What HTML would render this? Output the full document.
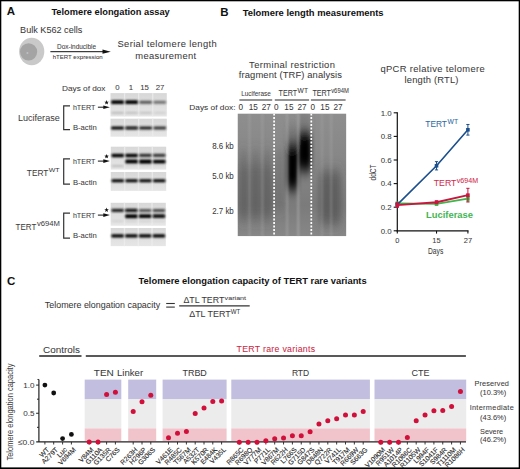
<!DOCTYPE html>
<html><head><meta charset="utf-8"><style>
html,body{margin:0;padding:0;background:#fff;}
svg{display:block;font-family:"Liberation Sans",sans-serif;}
</style></head><body>
<svg width="520" height="469" viewBox="0 0 520 469">
<defs>
<filter id="bl" x="-30%" y="-200%" width="160%" height="500%"><feGaussianBlur stdDeviation="0.85 0.8"/></filter>
<filter id="gb" x="-50%" y="-50%" width="200%" height="200%"><feGaussianBlur stdDeviation="3 6"/></filter>
<filter id="gb2" x="-50%" y="-50%" width="200%" height="200%"><feGaussianBlur stdDeviation="2 6.5"/></filter>
<filter id="gb3" x="-50%" y="-10%" width="200%" height="120%"><feGaussianBlur stdDeviation="0.8 1.2"/></filter>
<clipPath id="gelclip"><rect x="237.5" y="113.4" width="108.9" height="122.9"/></clipPath>
<linearGradient id="blotbg" x1="0" y1="0" x2="0" y2="1"><stop offset="0" stop-color="#d8d8d8"/><stop offset="1" stop-color="#e6e6e6"/></linearGradient>
<linearGradient id="gelbg" x1="0" y1="0" x2="0" y2="1">
<stop offset="0" stop-color="#8e8e8e"/><stop offset="0.4" stop-color="#868686"/><stop offset="0.75" stop-color="#7b7b7b"/><stop offset="1" stop-color="#878787"/></linearGradient>
<linearGradient id="lanegrad" x1="0" y1="0" x2="0" y2="1">
<stop offset="0" stop-color="#8a8a8a"/><stop offset="0.5" stop-color="#707070"/><stop offset="0.8" stop-color="#686868"/><stop offset="1" stop-color="#808080"/></linearGradient>
</defs>
<rect x="0" y="0" width="520" height="469" fill="#fff"/>
<text x="6.8" y="15.3" font-size="11.5" text-anchor="start" fill="#111" font-weight="bold">A</text>
<text x="51.4" y="15.4" font-size="9.3" text-anchor="start" fill="#111" font-weight="bold" textLength="118.4" lengthAdjust="spacingAndGlyphs">Telomere elongation assay</text>
<text x="20.1" y="32.6" font-size="9.3" text-anchor="start" fill="#3a3a3a" stroke="#3a3a3a" stroke-width="0.05" textLength="62.2" lengthAdjust="spacingAndGlyphs">Bulk K562 cells</text>
<ellipse cx="31.7" cy="51.5" rx="12.6" ry="13.7" fill="#c9c9c9"/>
<circle cx="28.6" cy="51.8" r="8.6" fill="#a4a4a4"/>
<text x="26.5" y="53.5" font-size="3" fill="#d8d8d8">ɑ</text>
<line x1="50.4" y1="51.7" x2="104" y2="51.7" stroke="#111" stroke-width="1"/>
<polygon points="102.5,49.6 110.8,51.7 102.5,53.8" fill="#111"/>
<text x="76.6" y="48.9" font-size="6.4" text-anchor="middle" fill="#3a3a3a" stroke="#3a3a3a" stroke-width="0.05" textLength="39" lengthAdjust="spacingAndGlyphs">Dox-inducible</text>
<text x="77.7" y="59.2" font-size="6.1" text-anchor="middle" fill="#3a3a3a" stroke="#3a3a3a" stroke-width="0.05" textLength="50" lengthAdjust="spacingAndGlyphs">hTERT expression</text>
<text x="117.4" y="47.1" font-size="9.4" text-anchor="start" fill="#3a3a3a" stroke="#3a3a3a" stroke-width="0.05" textLength="99.3" lengthAdjust="spacing">Serial telomere length</text>
<text x="135.2" y="58.6" font-size="9.4" text-anchor="start" fill="#3a3a3a" stroke="#3a3a3a" stroke-width="0.05" textLength="61" lengthAdjust="spacing">measurement</text>
<text x="62" y="90.5" font-size="7.9" text-anchor="start" fill="#3a3a3a" stroke="#3a3a3a" stroke-width="0.05" textLength="43.5" lengthAdjust="spacingAndGlyphs">Days of dox</text>
<text x="117.5" y="89.9" font-size="7.8" text-anchor="middle" fill="#3a3a3a" stroke="#3a3a3a" stroke-width="0.05">0</text>
<text x="130.9" y="89.9" font-size="7.8" text-anchor="middle" fill="#3a3a3a" stroke="#3a3a3a" stroke-width="0.05">1</text>
<text x="144.5" y="89.9" font-size="7.8" text-anchor="middle" fill="#3a3a3a" stroke="#3a3a3a" stroke-width="0.05">15</text>
<text x="160" y="89.9" font-size="7.8" text-anchor="middle" fill="#3a3a3a" stroke="#3a3a3a" stroke-width="0.05">27</text>
<rect x="110.5" y="93.1" width="56.30" height="23.40" fill="url(#blotbg)"/>
<rect x="123.88" y="93.1" width="1.4" height="23.40" fill="#ececec" opacity="0.8"/>
<rect x="137.95" y="93.1" width="1.4" height="23.40" fill="#ececec" opacity="0.8"/>
<rect x="152.03" y="93.1" width="1.4" height="23.40" fill="#ececec" opacity="0.8"/>
<rect x="111.20" y="100.27" width="12.67" height="3.85" rx="1.2" fill="rgb(0,0,0)" filter="url(#bl)"/>
<rect x="125.28" y="100.31" width="12.67" height="3.77" rx="1.2" fill="rgb(0,0,0)" filter="url(#bl)"/>
<rect x="139.35" y="100.64" width="12.67" height="3.12" rx="1.2" fill="rgb(85,85,85)" filter="url(#bl)"/>
<rect x="153.43" y="100.72" width="12.67" height="2.96" rx="1.2" fill="rgb(111,111,111)" filter="url(#bl)"/>
<rect x="111.20" y="112.24" width="12.67" height="1.32" rx="1.2" fill="rgb(163,163,163)" filter="url(#bl)"/>
<rect x="125.28" y="112.25" width="12.67" height="1.29" rx="1.2" fill="rgb(170,170,170)" filter="url(#bl)"/>
<rect x="139.35" y="112.26" width="12.67" height="1.28" rx="1.2" fill="rgb(176,176,176)" filter="url(#bl)"/>
<rect x="153.43" y="112.29" width="12.67" height="1.21" rx="1.2" fill="rgb(196,196,196)" filter="url(#bl)"/>
<rect x="110.5" y="118.7" width="56.30" height="18.00" fill="url(#blotbg)"/>
<rect x="123.88" y="118.7" width="1.4" height="18.00" fill="#ececec" opacity="0.8"/>
<rect x="137.95" y="118.7" width="1.4" height="18.00" fill="#ececec" opacity="0.8"/>
<rect x="152.03" y="118.7" width="1.4" height="18.00" fill="#ececec" opacity="0.8"/>
<rect x="111.20" y="126.42" width="12.67" height="3.17" rx="1.2" fill="rgb(0,0,0)" filter="url(#bl)"/>
<rect x="125.28" y="126.50" width="12.67" height="3.01" rx="1.2" fill="rgb(7,7,7)" filter="url(#bl)"/>
<rect x="139.35" y="126.56" width="12.67" height="2.89" rx="1.2" fill="rgb(30,30,30)" filter="url(#bl)"/>
<rect x="153.43" y="126.61" width="12.67" height="2.78" rx="1.2" fill="rgb(51,51,51)" filter="url(#bl)"/>
<rect x="110.8" y="146.7" width="55.40" height="22.90" fill="url(#blotbg)"/>
<rect x="123.95" y="146.7" width="1.4" height="22.90" fill="#ececec" opacity="0.8"/>
<rect x="137.80" y="146.7" width="1.4" height="22.90" fill="#ececec" opacity="0.8"/>
<rect x="151.65" y="146.7" width="1.4" height="22.90" fill="#ececec" opacity="0.8"/>
<rect x="111.49" y="153.64" width="12.46" height="3.52" rx="1.2" fill="rgb(0,0,0)" filter="url(#bl)"/>
<rect x="125.34" y="153.64" width="12.46" height="3.52" rx="1.2" fill="rgb(0,0,0)" filter="url(#bl)"/>
<rect x="139.19" y="153.81" width="12.46" height="3.18" rx="1.2" fill="rgb(46,46,46)" filter="url(#bl)"/>
<rect x="153.04" y="153.84" width="12.46" height="3.12" rx="1.2" fill="rgb(56,56,56)" filter="url(#bl)"/>
<rect x="125.34" y="159.61" width="12.46" height="3.98" rx="1.2" fill="rgb(0,0,0)" filter="url(#bl)"/>
<rect x="139.19" y="159.57" width="12.46" height="4.07" rx="1.2" fill="rgb(0,0,0)" filter="url(#bl)"/>
<rect x="153.04" y="159.65" width="12.46" height="3.89" rx="1.2" fill="rgb(0,0,0)" filter="url(#bl)"/>
<rect x="111.49" y="165.36" width="12.46" height="1.28" rx="1.2" fill="rgb(176,176,176)" filter="url(#bl)"/>
<rect x="125.34" y="165.40" width="12.46" height="1.20" rx="1.2" fill="rgb(202,202,202)" filter="url(#bl)"/>
<rect x="139.19" y="165.39" width="12.46" height="1.21" rx="1.2" fill="rgb(196,196,196)" filter="url(#bl)"/>
<rect x="153.04" y="165.41" width="12.46" height="1.18" rx="1.2" fill="rgb(207,207,207)" filter="url(#bl)"/>
<rect x="110.8" y="172" width="55.40" height="18.90" fill="url(#blotbg)"/>
<rect x="123.95" y="172" width="1.4" height="18.90" fill="#ececec" opacity="0.8"/>
<rect x="137.80" y="172" width="1.4" height="18.90" fill="#ececec" opacity="0.8"/>
<rect x="151.65" y="172" width="1.4" height="18.90" fill="#ececec" opacity="0.8"/>
<rect x="111.49" y="179.33" width="12.46" height="2.95" rx="1.2" fill="rgb(0,0,0)" filter="url(#bl)"/>
<rect x="125.34" y="179.34" width="12.46" height="2.92" rx="1.2" fill="rgb(4,4,4)" filter="url(#bl)"/>
<rect x="139.19" y="179.33" width="12.46" height="2.95" rx="1.2" fill="rgb(0,0,0)" filter="url(#bl)"/>
<rect x="153.04" y="179.30" width="12.46" height="3.00" rx="1.2" fill="rgb(0,0,0)" filter="url(#bl)"/>
<rect x="110.7" y="202.8" width="55.10" height="22.90" fill="url(#blotbg)"/>
<rect x="123.78" y="202.8" width="1.4" height="22.90" fill="#ececec" opacity="0.8"/>
<rect x="137.55" y="202.8" width="1.4" height="22.90" fill="#ececec" opacity="0.8"/>
<rect x="151.33" y="202.8" width="1.4" height="22.90" fill="#ececec" opacity="0.8"/>
<rect x="111.39" y="208.77" width="12.40" height="3.26" rx="1.2" fill="rgb(33,33,33)" filter="url(#bl)"/>
<rect x="125.16" y="208.70" width="12.40" height="3.41" rx="1.2" fill="rgb(7,7,7)" filter="url(#bl)"/>
<rect x="138.94" y="208.92" width="12.40" height="2.96" rx="1.2" fill="rgb(82,82,82)" filter="url(#bl)"/>
<rect x="152.71" y="208.89" width="12.40" height="3.03" rx="1.2" fill="rgb(72,72,72)" filter="url(#bl)"/>
<rect x="125.16" y="214.26" width="12.40" height="3.88" rx="1.2" fill="rgb(0,0,0)" filter="url(#bl)"/>
<rect x="138.94" y="214.29" width="12.40" height="3.83" rx="1.2" fill="rgb(0,0,0)" filter="url(#bl)"/>
<rect x="152.71" y="214.35" width="12.40" height="3.71" rx="1.2" fill="rgb(7,7,7)" filter="url(#bl)"/>
<rect x="111.39" y="220.60" width="12.40" height="1.20" rx="1.2" fill="rgb(202,202,202)" filter="url(#bl)"/>
<rect x="125.16" y="220.60" width="12.40" height="1.20" rx="1.2" fill="rgb(202,202,202)" filter="url(#bl)"/>
<rect x="138.94" y="220.60" width="12.40" height="1.20" rx="1.2" fill="rgb(202,202,202)" filter="url(#bl)"/>
<rect x="152.71" y="220.61" width="12.40" height="1.18" rx="1.2" fill="rgb(207,207,207)" filter="url(#bl)"/>
<rect x="110.7" y="228" width="55.10" height="18.10" fill="url(#blotbg)"/>
<rect x="123.78" y="228" width="1.4" height="18.10" fill="#ececec" opacity="0.8"/>
<rect x="137.55" y="228" width="1.4" height="18.10" fill="#ececec" opacity="0.8"/>
<rect x="151.33" y="228" width="1.4" height="18.10" fill="#ececec" opacity="0.8"/>
<rect x="111.39" y="234.16" width="12.40" height="3.28" rx="1.2" fill="rgb(0,0,0)" filter="url(#bl)"/>
<rect x="125.16" y="234.16" width="12.40" height="3.28" rx="1.2" fill="rgb(0,0,0)" filter="url(#bl)"/>
<rect x="138.94" y="234.23" width="12.40" height="3.15" rx="1.2" fill="rgb(0,0,0)" filter="url(#bl)"/>
<rect x="152.71" y="234.23" width="12.40" height="3.15" rx="1.2" fill="rgb(0,0,0)" filter="url(#bl)"/>
<polyline points="70,105.8 63.7,105.8 63.7,129.7 70,129.7" fill="none" stroke="#333" stroke-width="1.2"/>
<text x="72.9" y="109.9" font-size="7.9" text-anchor="start" fill="#3a3a3a" stroke="#3a3a3a" stroke-width="0.05" textLength="22.5" lengthAdjust="spacingAndGlyphs">hTERT</text>
<text x="72.9" y="130.3" font-size="7.9" text-anchor="start" fill="#3a3a3a" stroke="#3a3a3a" stroke-width="0.05" textLength="23.9" lengthAdjust="spacingAndGlyphs">B-actin</text>
<line x1="97.9" y1="107.2" x2="104.5" y2="107.2" stroke="#111" stroke-width="1"/>
<polygon points="103.3,105.4 109.9,107.2 103.3,109.0" fill="#111"/>
<polygon points="106.60,100.10 107.19,101.68 108.88,101.76 107.56,102.81 108.01,104.44 106.60,103.51 105.19,104.44 105.64,102.81 104.32,101.76 106.01,101.68" fill="#111"/>
<text x="18" y="120.8" font-size="9.2" fill="#3a3a3a" textLength="41.7" lengthAdjust="spacingAndGlyphs">Luciferase</text>
<polyline points="70,158.8 63.7,158.8 63.7,184.1 70,184.1" fill="none" stroke="#333" stroke-width="1.2"/>
<text x="72.9" y="163.5" font-size="7.9" text-anchor="start" fill="#3a3a3a" stroke="#3a3a3a" stroke-width="0.05" textLength="22.5" lengthAdjust="spacingAndGlyphs">hTERT</text>
<text x="72.9" y="184.6" font-size="7.9" text-anchor="start" fill="#3a3a3a" stroke="#3a3a3a" stroke-width="0.05" textLength="23.9" lengthAdjust="spacingAndGlyphs">B-actin</text>
<line x1="97.9" y1="161.1" x2="104.5" y2="161.1" stroke="#111" stroke-width="1"/>
<polygon points="103.3,159.29999999999998 109.9,161.1 103.3,162.9" fill="#111"/>
<polygon points="106.60,154.00 107.19,155.58 108.88,155.66 107.56,156.71 108.01,158.34 106.60,157.41 105.19,158.34 105.64,156.71 104.32,155.66 106.01,155.58" fill="#111"/>
<text x="26.8" y="176" font-size="9.7" fill="#3a3a3a" textLength="21.6" lengthAdjust="spacingAndGlyphs">TERT</text>
<text x="48.7" y="172.2" font-size="6.2" fill="#3a3a3a" textLength="10.9" lengthAdjust="spacingAndGlyphs">WT</text>
<polyline points="70,213.2 63.7,213.2 63.7,238.1 70,238.1" fill="none" stroke="#333" stroke-width="1.2"/>
<text x="72.9" y="217.5" font-size="7.9" text-anchor="start" fill="#3a3a3a" stroke="#3a3a3a" stroke-width="0.05" textLength="22.5" lengthAdjust="spacingAndGlyphs">hTERT</text>
<text x="72.9" y="238.1" font-size="7.9" text-anchor="start" fill="#3a3a3a" stroke="#3a3a3a" stroke-width="0.05" textLength="23.9" lengthAdjust="spacingAndGlyphs">B-actin</text>
<line x1="97.9" y1="215.1" x2="104.5" y2="215.1" stroke="#111" stroke-width="1"/>
<polygon points="103.3,213.29999999999998 109.9,215.1 103.3,216.9" fill="#111"/>
<polygon points="106.60,207.60 107.19,209.18 108.88,209.26 107.56,210.31 108.01,211.94 106.60,211.01 105.19,211.94 105.64,210.31 104.32,209.26 106.01,209.18" fill="#111"/>
<text x="15.6" y="230.1" font-size="9.5" fill="#3a3a3a" textLength="20.8" lengthAdjust="spacingAndGlyphs">TERT</text>
<text x="36.9" y="226.4" font-size="6.6" fill="#3a3a3a" textLength="23" lengthAdjust="spacingAndGlyphs">v694M</text>
<text x="220.2" y="15.6" font-size="11.5" text-anchor="start" fill="#111" font-weight="bold">B</text>
<text x="242.7" y="15.9" font-size="9.4" text-anchor="start" fill="#111" font-weight="bold" textLength="140.9" lengthAdjust="spacingAndGlyphs">Telomere length measurements</text>
<text x="249.1" y="67.5" font-size="9.4" text-anchor="start" fill="#3a3a3a" stroke="#3a3a3a" stroke-width="0.05" textLength="85.8" lengthAdjust="spacing">Terminal restriction</text>
<text x="238.8" y="78.2" font-size="9.4" text-anchor="start" fill="#3a3a3a" stroke="#3a3a3a" stroke-width="0.05" textLength="103.2" lengthAdjust="spacing">fragment (TRF) analysis</text>
<text x="241.2" y="96" font-size="7.6" text-anchor="start" fill="#3a3a3a" stroke="#3a3a3a" stroke-width="0.05" textLength="29.6" lengthAdjust="spacingAndGlyphs">Luciferase</text>
<text x="278.6" y="96" font-size="8.6" text-anchor="start" fill="#3a3a3a" stroke="#3a3a3a" stroke-width="0.05" textLength="18.6" lengthAdjust="spacingAndGlyphs">TERT</text>
<text x="297.6" y="93.3" font-size="6.6" text-anchor="start" fill="#3a3a3a" stroke="#3a3a3a" stroke-width="0.05" textLength="10.4" lengthAdjust="spacingAndGlyphs">WT</text>
<text x="312.4" y="96" font-size="8.6" text-anchor="start" fill="#3a3a3a" stroke="#3a3a3a" stroke-width="0.05" textLength="18.6" lengthAdjust="spacingAndGlyphs">TERT</text>
<text x="331.2" y="93.3" font-size="6.4" text-anchor="start" fill="#3a3a3a" stroke="#3a3a3a" stroke-width="0.05" textLength="17.6" lengthAdjust="spacingAndGlyphs">v694M</text>
<line x1="239.4" y1="100" x2="272.2" y2="100" stroke="#2a2a2a" stroke-width="1.15"/>
<line x1="274.8" y1="100" x2="309.1" y2="100" stroke="#2a2a2a" stroke-width="1.15"/>
<line x1="310.9" y1="100" x2="345.6" y2="100" stroke="#2a2a2a" stroke-width="1.15"/>
<text x="189.3" y="110" font-size="8" text-anchor="start" fill="#3a3a3a" stroke="#3a3a3a" stroke-width="0.05" textLength="46.2" lengthAdjust="spacingAndGlyphs">Days of dox:</text>
<text x="240.9" y="109.9" font-size="8.2" text-anchor="middle" fill="#3a3a3a" stroke="#3a3a3a" stroke-width="0.05">0</text>
<text x="253.2" y="109.9" font-size="8.2" text-anchor="middle" fill="#3a3a3a" stroke="#3a3a3a" stroke-width="0.05">15</text>
<text x="266.2" y="109.9" font-size="8.2" text-anchor="middle" fill="#3a3a3a" stroke="#3a3a3a" stroke-width="0.05">27</text>
<text x="276.3" y="109.9" font-size="8.2" text-anchor="middle" fill="#3a3a3a" stroke="#3a3a3a" stroke-width="0.05">0</text>
<text x="288.9" y="109.9" font-size="8.2" text-anchor="middle" fill="#3a3a3a" stroke="#3a3a3a" stroke-width="0.05">15</text>
<text x="302.1" y="109.9" font-size="8.2" text-anchor="middle" fill="#3a3a3a" stroke="#3a3a3a" stroke-width="0.05">27</text>
<text x="312.8" y="109.9" font-size="8.2" text-anchor="middle" fill="#3a3a3a" stroke="#3a3a3a" stroke-width="0.05">0</text>
<text x="324.9" y="109.9" font-size="8.2" text-anchor="middle" fill="#3a3a3a" stroke="#3a3a3a" stroke-width="0.05">15</text>
<text x="338" y="109.9" font-size="8.2" text-anchor="middle" fill="#3a3a3a" stroke="#3a3a3a" stroke-width="0.05">27</text>
<g clip-path="url(#gelclip)">
<rect x="237.5" y="113.4" width="108.9" height="122.9" fill="url(#gelbg)"/>
<g filter="url(#gb)">
<rect x="238" y="165" width="35" height="52" rx="6" fill="#555" opacity="0.4"/>
<rect x="240.5" y="150" width="6" height="72" rx="3" fill="#505050" opacity="0.45"/>
<rect x="252.5" y="150" width="6" height="72" rx="3" fill="#505050" opacity="0.45"/>
<rect x="264" y="150" width="6" height="72" rx="3" fill="#505050" opacity="0.45"/>
<rect x="322.5" y="168" width="7" height="58" rx="3" fill="#505050" opacity="0.35"/>
<rect x="332.5" y="168" width="7" height="58" rx="3" fill="#505050" opacity="0.35"/>
<rect x="276" y="150" width="8" height="60" rx="4" fill="#5a5a5a" opacity="0.35"/>
<rect x="319" y="172" width="22" height="52" rx="6" fill="#505050" opacity="0.55"/>
</g>
<g filter="url(#gb2)">
<rect x="287" y="143" width="11" height="47" rx="5" fill="#000"/>
<rect x="287" y="126" width="10.5" height="22" rx="4" fill="#555" opacity="0.4"/>
<rect x="298.5" y="131" width="12.5" height="40" rx="5" fill="#000"/>
<rect x="299" y="106" width="11.5" height="24" rx="3" fill="#666" opacity="0.35"/>
</g>
<g filter="url(#gb3)">
<rect x="248.8" y="113" width="1.4" height="124" fill="#b4b4b4" opacity="0.4"/>
<rect x="261.7" y="113" width="1.4" height="124" fill="#b4b4b4" opacity="0.45"/>
<rect x="286.5" y="113" width="1.4" height="124" fill="#b4b4b4" opacity="0.6"/>
<rect x="297.6" y="113" width="1.4" height="124" fill="#b4b4b4" opacity="0.75"/>
<rect x="321.3" y="113" width="1.4" height="124" fill="#b4b4b4" opacity="0.35"/>
<rect x="330.5" y="113" width="1.4" height="124" fill="#b4b4b4" opacity="0.45"/>
</g>
<line x1="274.1" y1="113.4" x2="274.1" y2="236.3" stroke="#fff" stroke-width="1.7" stroke-dasharray="2.2,1.3"/>
<line x1="311.3" y1="113.4" x2="311.3" y2="236.3" stroke="#fff" stroke-width="1.7" stroke-dasharray="2.2,1.3"/>
</g>
<text x="233.8" y="148.9" font-size="8.2" text-anchor="end" fill="#3a3a3a" stroke="#3a3a3a" stroke-width="0.05" textLength="21.6" lengthAdjust="spacingAndGlyphs">8.6 kb</text>
<text x="233.8" y="178.8" font-size="8.2" text-anchor="end" fill="#3a3a3a" stroke="#3a3a3a" stroke-width="0.05" textLength="21.6" lengthAdjust="spacingAndGlyphs">5.0 kb</text>
<text x="233.8" y="214.2" font-size="8.2" text-anchor="end" fill="#3a3a3a" stroke="#3a3a3a" stroke-width="0.05" textLength="21.6" lengthAdjust="spacingAndGlyphs">2.7 kb</text>
<text x="380.4" y="72.1" font-size="9.4" text-anchor="start" fill="#3a3a3a" stroke="#3a3a3a" stroke-width="0.05" textLength="104.3" lengthAdjust="spacing">qPCR relative telomere</text>
<text x="404.6" y="83.4" font-size="9.4" text-anchor="start" fill="#3a3a3a" stroke="#3a3a3a" stroke-width="0.05" textLength="53.8" lengthAdjust="spacing">length (RTL)</text>
<line x1="397.3" y1="112.30000000000001" x2="397.3" y2="231.4" stroke="#111" stroke-width="1.2"/>
<line x1="396.7" y1="230.8" x2="468.5" y2="230.8" stroke="#111" stroke-width="1.2"/>
<line x1="393.7" y1="230.80" x2="397.3" y2="230.80" stroke="#111" stroke-width="1.1"/>
<text x="391.7" y="233.60000000000002" font-size="7.9" text-anchor="end" fill="#3a3a3a" stroke="#3a3a3a" stroke-width="0.05">0.0</text>
<line x1="393.7" y1="207.20" x2="397.3" y2="207.20" stroke="#111" stroke-width="1.1"/>
<text x="391.7" y="210.00000000000003" font-size="7.9" text-anchor="end" fill="#3a3a3a" stroke="#3a3a3a" stroke-width="0.05">0.2</text>
<line x1="393.7" y1="183.60" x2="397.3" y2="183.60" stroke="#111" stroke-width="1.1"/>
<text x="391.7" y="186.40000000000003" font-size="7.9" text-anchor="end" fill="#3a3a3a" stroke="#3a3a3a" stroke-width="0.05">0.4</text>
<line x1="393.7" y1="160.00" x2="397.3" y2="160.00" stroke="#111" stroke-width="1.1"/>
<text x="391.7" y="162.8" font-size="7.9" text-anchor="end" fill="#3a3a3a" stroke="#3a3a3a" stroke-width="0.05">0.6</text>
<line x1="393.7" y1="136.40" x2="397.3" y2="136.40" stroke="#111" stroke-width="1.1"/>
<text x="391.7" y="139.20000000000002" font-size="7.9" text-anchor="end" fill="#3a3a3a" stroke="#3a3a3a" stroke-width="0.05">0.8</text>
<line x1="393.7" y1="112.80" x2="397.3" y2="112.80" stroke="#111" stroke-width="1.1"/>
<text x="391.7" y="115.60000000000001" font-size="7.9" text-anchor="end" fill="#3a3a3a" stroke="#3a3a3a" stroke-width="0.05">1.0</text>
<line x1="397.30" y1="230.8" x2="397.30" y2="233.60000000000002" stroke="#111" stroke-width="1.1"/>
<text x="397.3" y="242.9" font-size="7.5" text-anchor="middle" fill="#3a3a3a" stroke="#3a3a3a" stroke-width="0.05">0</text>
<line x1="436.52" y1="230.8" x2="436.52" y2="233.60000000000002" stroke="#111" stroke-width="1.1"/>
<text x="436.52222222222224" y="242.9" font-size="7.5" text-anchor="middle" fill="#3a3a3a" stroke="#3a3a3a" stroke-width="0.05">15</text>
<line x1="467.90" y1="230.8" x2="467.90" y2="233.60000000000002" stroke="#111" stroke-width="1.1"/>
<text x="467.9" y="242.9" font-size="7.5" text-anchor="middle" fill="#3a3a3a" stroke="#3a3a3a" stroke-width="0.05">27</text>
<text x="428" y="254.4" font-size="9.3" text-anchor="start" fill="#3a3a3a" stroke="#3a3a3a" stroke-width="0.05" textLength="15.3" lengthAdjust="spacingAndGlyphs">Days</text>
<text transform="translate(376.2,172.4) rotate(-90)" font-size="9.4" text-anchor="middle" fill="#3a3a3a" textLength="16" lengthAdjust="spacingAndGlyphs">ddCT</text>
<polyline points="397.30,203.31 436.52,203.90 467.90,198.70" fill="none" stroke="#3fb54b" stroke-width="1.7"/>
<rect x="395.50" y="201.51" width="3.6" height="3.6" fill="#3fb54b"/>
<line x1="436.52" y1="202.48" x2="436.52" y2="205.31" stroke="#3fb54b" stroke-width="1"/>
<line x1="434.92" y1="202.48" x2="438.12" y2="202.48" stroke="#3fb54b" stroke-width="1"/>
<line x1="434.92" y1="205.31" x2="438.12" y2="205.31" stroke="#3fb54b" stroke-width="1"/>
<rect x="434.72" y="202.10" width="3.6" height="3.6" fill="#3fb54b"/>
<line x1="467.90" y1="196.34" x2="467.90" y2="201.06" stroke="#3fb54b" stroke-width="1"/>
<line x1="466.30" y1="196.34" x2="469.50" y2="196.34" stroke="#3fb54b" stroke-width="1"/>
<line x1="466.30" y1="201.06" x2="469.50" y2="201.06" stroke="#3fb54b" stroke-width="1"/>
<rect x="466.10" y="196.90" width="3.6" height="3.6" fill="#3fb54b"/>
<polyline points="397.30,204.60 436.52,165.78 467.90,129.79" fill="none" stroke="#1a4e8c" stroke-width="1.6"/>
<line x1="397.30" y1="203.19" x2="397.30" y2="206.02" stroke="#1a4e8c" stroke-width="1"/>
<line x1="395.70" y1="203.19" x2="398.90" y2="203.19" stroke="#1a4e8c" stroke-width="1"/>
<line x1="395.70" y1="206.02" x2="398.90" y2="206.02" stroke="#1a4e8c" stroke-width="1"/>
<rect x="395.50" y="202.80" width="3.6" height="3.6" fill="#1a4e8c"/>
<line x1="436.52" y1="161.65" x2="436.52" y2="169.91" stroke="#1a4e8c" stroke-width="1"/>
<line x1="434.92" y1="161.65" x2="438.12" y2="161.65" stroke="#1a4e8c" stroke-width="1"/>
<line x1="434.92" y1="169.91" x2="438.12" y2="169.91" stroke="#1a4e8c" stroke-width="1"/>
<rect x="434.72" y="163.98" width="3.6" height="3.6" fill="#1a4e8c"/>
<line x1="467.90" y1="124.48" x2="467.90" y2="135.10" stroke="#1a4e8c" stroke-width="1"/>
<line x1="466.30" y1="124.48" x2="469.50" y2="124.48" stroke="#1a4e8c" stroke-width="1"/>
<line x1="466.30" y1="135.10" x2="469.50" y2="135.10" stroke="#1a4e8c" stroke-width="1"/>
<rect x="466.10" y="127.99" width="3.6" height="3.6" fill="#1a4e8c"/>
<polyline points="397.30,205.08 436.52,202.24 467.90,195.16" fill="none" stroke="#c8163f" stroke-width="1.8"/>
<line x1="397.30" y1="202.72" x2="397.30" y2="207.44" stroke="#c8163f" stroke-width="1"/>
<line x1="395.70" y1="202.72" x2="398.90" y2="202.72" stroke="#c8163f" stroke-width="1"/>
<line x1="395.70" y1="207.44" x2="398.90" y2="207.44" stroke="#c8163f" stroke-width="1"/>
<rect x="395.50" y="203.28" width="3.6" height="3.6" fill="#c8163f"/>
<line x1="436.52" y1="200.83" x2="436.52" y2="203.66" stroke="#c8163f" stroke-width="1"/>
<line x1="434.92" y1="200.83" x2="438.12" y2="200.83" stroke="#c8163f" stroke-width="1"/>
<line x1="434.92" y1="203.66" x2="438.12" y2="203.66" stroke="#c8163f" stroke-width="1"/>
<rect x="434.72" y="200.44" width="3.6" height="3.6" fill="#c8163f"/>
<line x1="467.90" y1="188.32" x2="467.90" y2="202.01" stroke="#c8163f" stroke-width="1"/>
<line x1="466.30" y1="188.32" x2="469.50" y2="188.32" stroke="#c8163f" stroke-width="1"/>
<line x1="466.30" y1="202.01" x2="469.50" y2="202.01" stroke="#c8163f" stroke-width="1"/>
<rect x="466.10" y="193.36" width="3.6" height="3.6" fill="#c8163f"/>
<text x="425.3" y="126.9" font-size="9.6" text-anchor="start" fill="#2d6aa3" stroke="#2d6aa3" stroke-width="0.05" textLength="21.6" lengthAdjust="spacingAndGlyphs">TERT</text>
<text x="447.6" y="123.6" font-size="6.4" text-anchor="start" fill="#2d6aa3" stroke="#2d6aa3" stroke-width="0.05" textLength="10.5" lengthAdjust="spacingAndGlyphs">WT</text>
<text x="433.8" y="186.4" font-size="9.9" text-anchor="start" fill="#cf2a4c" stroke="#cf2a4c" stroke-width="0.05" textLength="22.6" lengthAdjust="spacingAndGlyphs">TERT</text>
<text x="456.8" y="182.9" font-size="6.4" text-anchor="start" fill="#cf2a4c" stroke="#cf2a4c" stroke-width="0.05" textLength="21.3" lengthAdjust="spacingAndGlyphs">v694M</text>
<text x="426" y="217.9" font-size="9.4" text-anchor="start" fill="#44b553" font-weight="bold" textLength="47" lengthAdjust="spacingAndGlyphs">Luciferase</text>
<text x="7" y="285.2" font-size="11.5" text-anchor="start" fill="#111" font-weight="bold">C</text>
<text x="138.6" y="284.4" font-size="9.35" text-anchor="start" fill="#111" font-weight="bold" textLength="228.1" lengthAdjust="spacingAndGlyphs">Telomere elongation capacity of TERT rare variants</text>
<text x="44.8" y="308.4" font-size="8.9" text-anchor="start" fill="#3a3a3a" stroke="#3a3a3a" stroke-width="0.05" textLength="115.4" lengthAdjust="spacingAndGlyphs">Telomere elongation capacity</text>
<line x1="166.2" y1="303.5" x2="174.8" y2="303.5" stroke="#333" stroke-width="1.1"/>
<line x1="166.2" y1="307.1" x2="174.8" y2="307.1" stroke="#333" stroke-width="1.1"/>
<line x1="179.2" y1="305.9" x2="249.7" y2="305.9" stroke="#333" stroke-width="1.2"/>
<text x="183.4" y="302.9" font-size="9.2" text-anchor="start" fill="#3a3a3a" stroke="#3a3a3a" stroke-width="0.05" textLength="40.9" lengthAdjust="spacingAndGlyphs">ΔTL TERT</text>
<text x="224.6" y="299.7" font-size="6.2" text-anchor="start" fill="#3a3a3a" stroke="#3a3a3a" stroke-width="0.05" textLength="21.5" lengthAdjust="spacingAndGlyphs">variant</text>
<text x="189.2" y="317" font-size="9.2" text-anchor="start" fill="#3a3a3a" stroke="#3a3a3a" stroke-width="0.05" textLength="41.5" lengthAdjust="spacingAndGlyphs">ΔTL TERT</text>
<text x="230.8" y="313.9" font-size="6.6" text-anchor="start" fill="#3a3a3a" stroke="#3a3a3a" stroke-width="0.05" textLength="9.5" lengthAdjust="spacingAndGlyphs">WT</text>
<text x="43.1" y="352.5" font-size="9.4" text-anchor="start" fill="#3a3a3a" stroke="#3a3a3a" stroke-width="0.05" textLength="36.9" lengthAdjust="spacingAndGlyphs">Controls</text>
<line x1="39.2" y1="356" x2="81.5" y2="356" stroke="#222" stroke-width="1.3"/>
<line x1="85.8" y1="356" x2="465.9" y2="356" stroke="#222" stroke-width="1.3"/>
<text x="236.6" y="351.9" font-size="8.74" text-anchor="start" fill="#cc1f44" stroke="#cc1f44" stroke-width="0.05" textLength="78.5" lengthAdjust="spacing">TERT rare variants</text>
<text x="93.8" y="376.2" font-size="9" text-anchor="start" fill="#3a3a3a" stroke="#3a3a3a" stroke-width="0.05" textLength="20" lengthAdjust="spacingAndGlyphs">TEN</text>
<text x="116.9" y="376.2" font-size="9" text-anchor="start" fill="#3a3a3a" stroke="#3a3a3a" stroke-width="0.05" textLength="26.2" lengthAdjust="spacingAndGlyphs">Linker</text>
<text x="182.5" y="376.2" font-size="9" text-anchor="start" fill="#3a3a3a" stroke="#3a3a3a" stroke-width="0.05" textLength="24.3" lengthAdjust="spacingAndGlyphs">TRBD</text>
<text x="291.9" y="376.2" font-size="9" text-anchor="start" fill="#3a3a3a" stroke="#3a3a3a" stroke-width="0.05" textLength="17.3" lengthAdjust="spacingAndGlyphs">RTD</text>
<text x="411.5" y="376.2" font-size="9" text-anchor="start" fill="#3a3a3a" stroke="#3a3a3a" stroke-width="0.05" textLength="18" lengthAdjust="spacingAndGlyphs">CTE</text>
<rect x="84.7" y="379.6" width="36.6" height="19.7" fill="#c1bedf"/>
<rect x="84.7" y="399.3" width="36.6" height="29.1" fill="#ececec"/>
<rect x="84.7" y="428.4" width="36.6" height="12.8" fill="#f1c4cc"/>
<rect x="128.2" y="379.6" width="28.0" height="19.7" fill="#c1bedf"/>
<rect x="128.2" y="399.3" width="28.0" height="29.1" fill="#ececec"/>
<rect x="128.2" y="428.4" width="28.0" height="12.8" fill="#f1c4cc"/>
<rect x="162.6" y="379.6" width="64.0" height="19.7" fill="#c1bedf"/>
<rect x="162.6" y="399.3" width="64.0" height="29.1" fill="#ececec"/>
<rect x="162.6" y="428.4" width="64.0" height="12.8" fill="#f1c4cc"/>
<rect x="231.3" y="379.6" width="138.6" height="19.7" fill="#c1bedf"/>
<rect x="231.3" y="399.3" width="138.6" height="29.1" fill="#ececec"/>
<rect x="231.3" y="428.4" width="138.6" height="12.8" fill="#f1c4cc"/>
<rect x="374.5" y="379.6" width="91.7" height="19.7" fill="#c1bedf"/>
<rect x="374.5" y="399.3" width="91.7" height="29.1" fill="#ececec"/>
<rect x="374.5" y="428.4" width="91.7" height="12.8" fill="#f1c4cc"/>
<line x1="38.9" y1="379.4" x2="38.9" y2="441.9" stroke="#222" stroke-width="1.2"/>
<line x1="36.2" y1="441.9" x2="466" y2="441.9" stroke="#222" stroke-width="1.3"/>
<line x1="36.1" y1="385.10" x2="38.9" y2="385.10" stroke="#222" stroke-width="1"/>
<line x1="37.0" y1="399.18" x2="38.9" y2="399.18" stroke="#222" stroke-width="1"/>
<line x1="36.1" y1="413.25" x2="38.9" y2="413.25" stroke="#222" stroke-width="1"/>
<line x1="37.0" y1="427.32" x2="38.9" y2="427.32" stroke="#222" stroke-width="1"/>
<line x1="37.5" y1="379.47" x2="38.9" y2="379.47" stroke="#222" stroke-width="1"/>
<text x="34.5" y="388" font-size="8.1" text-anchor="end" fill="#3a3a3a" stroke="#3a3a3a" stroke-width="0.05">1.0</text>
<text x="34.5" y="416.4" font-size="8.1" text-anchor="end" fill="#3a3a3a" stroke="#3a3a3a" stroke-width="0.05">0.5</text>
<text x="34.5" y="444.6" font-size="8.1" text-anchor="end" fill="#3a3a3a" stroke="#3a3a3a" stroke-width="0.05" textLength="16.6" lengthAdjust="spacingAndGlyphs">≤0.0</text>
<text transform="translate(13.4,412.1) rotate(-90)" font-size="8.5" text-anchor="middle" fill="#3a3a3a" textLength="97" lengthAdjust="spacingAndGlyphs">Telomere elongation capacity</text>
<line x1="44.90" y1="441.9" x2="44.90" y2="444.5" stroke="#222" stroke-width="0.9"/>
<text transform="translate(49.70,450.2) rotate(-45)" font-size="6.8" text-anchor="end" fill="#2a2a2a" stroke="#2a2a2a" stroke-width="0.12">WT</text>
<line x1="53.70" y1="441.9" x2="53.70" y2="444.5" stroke="#222" stroke-width="0.9"/>
<text transform="translate(58.50,450.2) rotate(-45)" font-size="6.8" text-anchor="end" fill="#2a2a2a" stroke="#2a2a2a" stroke-width="0.12">A279T</text>
<line x1="62.60" y1="441.9" x2="62.60" y2="444.5" stroke="#222" stroke-width="0.9"/>
<text transform="translate(67.40,450.2) rotate(-45)" font-size="6.8" text-anchor="end" fill="#2a2a2a" stroke="#2a2a2a" stroke-width="0.12">Luc</text>
<line x1="71.40" y1="441.9" x2="71.40" y2="444.5" stroke="#222" stroke-width="0.9"/>
<text transform="translate(76.20,450.2) rotate(-45)" font-size="6.8" text-anchor="end" fill="#2a2a2a" stroke="#2a2a2a" stroke-width="0.12">V694M</text>
<line x1="89.20" y1="441.9" x2="89.20" y2="444.5" stroke="#222" stroke-width="0.9"/>
<text transform="translate(94.00,450.2) rotate(-45)" font-size="6.8" text-anchor="end" fill="#2a2a2a" stroke="#2a2a2a" stroke-width="0.12">V84M</text>
<line x1="98.00" y1="441.9" x2="98.00" y2="444.5" stroke="#222" stroke-width="0.9"/>
<text transform="translate(102.80,450.2) rotate(-45)" font-size="6.8" text-anchor="end" fill="#2a2a2a" stroke="#2a2a2a" stroke-width="0.12">G110A</text>
<line x1="106.60" y1="441.9" x2="106.60" y2="444.5" stroke="#222" stroke-width="0.9"/>
<text transform="translate(111.40,450.2) rotate(-45)" font-size="6.8" text-anchor="end" fill="#2a2a2a" stroke="#2a2a2a" stroke-width="0.12">G135R</text>
<line x1="115.40" y1="441.9" x2="115.40" y2="444.5" stroke="#222" stroke-width="0.9"/>
<text transform="translate(120.20,450.2) rotate(-45)" font-size="6.8" text-anchor="end" fill="#2a2a2a" stroke="#2a2a2a" stroke-width="0.12">C76S</text>
<line x1="133.20" y1="441.9" x2="133.20" y2="444.5" stroke="#222" stroke-width="0.9"/>
<text transform="translate(138.00,450.2) rotate(-45)" font-size="6.8" text-anchor="end" fill="#2a2a2a" stroke="#2a2a2a" stroke-width="0.12">R263H</text>
<line x1="142.00" y1="441.9" x2="142.00" y2="444.5" stroke="#222" stroke-width="0.9"/>
<text transform="translate(146.80,450.2) rotate(-45)" font-size="6.8" text-anchor="end" fill="#2a2a2a" stroke="#2a2a2a" stroke-width="0.12">H296P</text>
<line x1="150.80" y1="441.9" x2="150.80" y2="444.5" stroke="#222" stroke-width="0.9"/>
<text transform="translate(155.60,450.2) rotate(-45)" font-size="6.8" text-anchor="end" fill="#2a2a2a" stroke="#2a2a2a" stroke-width="0.12">G306S</text>
<line x1="168.50" y1="441.9" x2="168.50" y2="444.5" stroke="#222" stroke-width="0.9"/>
<text transform="translate(173.30,450.2) rotate(-45)" font-size="6.8" text-anchor="end" fill="#2a2a2a" stroke="#2a2a2a" stroke-width="0.12">V461E</text>
<line x1="177.50" y1="441.9" x2="177.50" y2="444.5" stroke="#222" stroke-width="0.9"/>
<text transform="translate(182.30,450.2) rotate(-45)" font-size="6.8" text-anchor="end" fill="#2a2a2a" stroke="#2a2a2a" stroke-width="0.12">R485C</text>
<line x1="186.40" y1="441.9" x2="186.40" y2="444.5" stroke="#222" stroke-width="0.9"/>
<text transform="translate(191.20,450.2) rotate(-45)" font-size="6.8" text-anchor="end" fill="#2a2a2a" stroke="#2a2a2a" stroke-width="0.12">T567M</text>
<line x1="195.20" y1="441.9" x2="195.20" y2="444.5" stroke="#222" stroke-width="0.9"/>
<text transform="translate(200.00,450.2) rotate(-45)" font-size="6.8" text-anchor="end" fill="#2a2a2a" stroke="#2a2a2a" stroke-width="0.12">A532T</text>
<line x1="204.00" y1="441.9" x2="204.00" y2="444.5" stroke="#222" stroke-width="0.9"/>
<text transform="translate(208.80,450.2) rotate(-45)" font-size="6.8" text-anchor="end" fill="#2a2a2a" stroke="#2a2a2a" stroke-width="0.12">K570R</text>
<line x1="212.80" y1="441.9" x2="212.80" y2="444.5" stroke="#222" stroke-width="0.9"/>
<text transform="translate(217.60,450.2) rotate(-45)" font-size="6.8" text-anchor="end" fill="#2a2a2a" stroke="#2a2a2a" stroke-width="0.12">E484K</text>
<line x1="221.60" y1="441.9" x2="221.60" y2="444.5" stroke="#222" stroke-width="0.9"/>
<text transform="translate(226.40,450.2) rotate(-45)" font-size="6.8" text-anchor="end" fill="#2a2a2a" stroke="#2a2a2a" stroke-width="0.12">V435L</text>
<line x1="239.30" y1="441.9" x2="239.30" y2="444.5" stroke="#222" stroke-width="0.9"/>
<text transform="translate(244.10,450.2) rotate(-45)" font-size="6.8" text-anchor="end" fill="#2a2a2a" stroke="#2a2a2a" stroke-width="0.12">R865C</text>
<line x1="248.15" y1="441.9" x2="248.15" y2="444.5" stroke="#222" stroke-width="0.9"/>
<text transform="translate(252.95,450.2) rotate(-45)" font-size="6.8" text-anchor="end" fill="#2a2a2a" stroke="#2a2a2a" stroke-width="0.12">R698Q</text>
<line x1="257.00" y1="441.9" x2="257.00" y2="444.5" stroke="#222" stroke-width="0.9"/>
<text transform="translate(261.80,450.2) rotate(-45)" font-size="6.8" text-anchor="end" fill="#2a2a2a" stroke="#2a2a2a" stroke-width="0.12">V777M</text>
<line x1="265.85" y1="441.9" x2="265.85" y2="444.5" stroke="#222" stroke-width="0.9"/>
<text transform="translate(270.65,450.2) rotate(-45)" font-size="6.8" text-anchor="end" fill="#2a2a2a" stroke="#2a2a2a" stroke-width="0.12">P771L</text>
<line x1="274.70" y1="441.9" x2="274.70" y2="444.5" stroke="#222" stroke-width="0.9"/>
<text transform="translate(279.50,450.2) rotate(-45)" font-size="6.8" text-anchor="end" fill="#2a2a2a" stroke="#2a2a2a" stroke-width="0.12">V867M</text>
<line x1="283.55" y1="441.9" x2="283.55" y2="444.5" stroke="#222" stroke-width="0.9"/>
<text transform="translate(288.35,450.2) rotate(-45)" font-size="6.8" text-anchor="end" fill="#2a2a2a" stroke="#2a2a2a" stroke-width="0.12">R622H</text>
<line x1="292.40" y1="441.9" x2="292.40" y2="444.5" stroke="#222" stroke-width="0.9"/>
<text transform="translate(297.20,450.2) rotate(-45)" font-size="6.8" text-anchor="end" fill="#2a2a2a" stroke="#2a2a2a" stroke-width="0.12">L766S</text>
<line x1="301.25" y1="441.9" x2="301.25" y2="444.5" stroke="#222" stroke-width="0.9"/>
<text transform="translate(306.05,450.2) rotate(-45)" font-size="6.8" text-anchor="end" fill="#2a2a2a" stroke="#2a2a2a" stroke-width="0.12">G715D</text>
<line x1="310.10" y1="441.9" x2="310.10" y2="444.5" stroke="#222" stroke-width="0.9"/>
<text transform="translate(314.90,450.2) rotate(-45)" font-size="6.8" text-anchor="end" fill="#2a2a2a" stroke="#2a2a2a" stroke-width="0.12">G847S</text>
<line x1="318.95" y1="441.9" x2="318.95" y2="444.5" stroke="#222" stroke-width="0.9"/>
<text transform="translate(323.75,450.2) rotate(-45)" font-size="6.8" text-anchor="end" fill="#2a2a2a" stroke="#2a2a2a" stroke-width="0.12">D848N</text>
<line x1="327.80" y1="441.9" x2="327.80" y2="444.5" stroke="#222" stroke-width="0.9"/>
<text transform="translate(332.60,450.2) rotate(-45)" font-size="6.8" text-anchor="end" fill="#2a2a2a" stroke="#2a2a2a" stroke-width="0.12">Q722R</text>
<line x1="336.65" y1="441.9" x2="336.65" y2="444.5" stroke="#222" stroke-width="0.9"/>
<text transform="translate(341.45,450.2) rotate(-45)" font-size="6.8" text-anchor="end" fill="#2a2a2a" stroke="#2a2a2a" stroke-width="0.12">V741L</text>
<line x1="345.50" y1="441.9" x2="345.50" y2="444.5" stroke="#222" stroke-width="0.9"/>
<text transform="translate(350.30,450.2) rotate(-45)" font-size="6.8" text-anchor="end" fill="#2a2a2a" stroke="#2a2a2a" stroke-width="0.12">T917M</text>
<line x1="354.35" y1="441.9" x2="354.35" y2="444.5" stroke="#222" stroke-width="0.9"/>
<text transform="translate(359.15,450.2) rotate(-45)" font-size="6.8" text-anchor="end" fill="#2a2a2a" stroke="#2a2a2a" stroke-width="0.12">R669W</text>
<line x1="363.20" y1="441.9" x2="363.20" y2="444.5" stroke="#222" stroke-width="0.9"/>
<text transform="translate(368.00,450.2) rotate(-45)" font-size="6.8" text-anchor="end" fill="#2a2a2a" stroke="#2a2a2a" stroke-width="0.12">S663G</text>
<line x1="380.80" y1="441.9" x2="380.80" y2="444.5" stroke="#222" stroke-width="0.9"/>
<text transform="translate(385.60,450.2) rotate(-45)" font-size="6.8" text-anchor="end" fill="#2a2a2a" stroke="#2a2a2a" stroke-width="0.12">V1090M</text>
<line x1="389.65" y1="441.9" x2="389.65" y2="444.5" stroke="#222" stroke-width="0.9"/>
<text transform="translate(394.45,450.2) rotate(-45)" font-size="6.8" text-anchor="end" fill="#2a2a2a" stroke="#2a2a2a" stroke-width="0.12">R951W</text>
<line x1="398.50" y1="441.9" x2="398.50" y2="444.5" stroke="#222" stroke-width="0.9"/>
<text transform="translate(403.30,450.2) rotate(-45)" font-size="6.8" text-anchor="end" fill="#2a2a2a" stroke="#2a2a2a" stroke-width="0.12">A1014P</text>
<line x1="407.35" y1="441.9" x2="407.35" y2="444.5" stroke="#222" stroke-width="0.9"/>
<text transform="translate(412.15,450.2) rotate(-45)" font-size="6.8" text-anchor="end" fill="#2a2a2a" stroke="#2a2a2a" stroke-width="0.12">R1086C</text>
<line x1="416.20" y1="441.9" x2="416.20" y2="444.5" stroke="#222" stroke-width="0.9"/>
<text transform="translate(421.00,450.2) rotate(-45)" font-size="6.8" text-anchor="end" fill="#2a2a2a" stroke="#2a2a2a" stroke-width="0.12">R1105W</text>
<line x1="425.05" y1="441.9" x2="425.05" y2="444.5" stroke="#222" stroke-width="0.9"/>
<text transform="translate(429.85,450.2) rotate(-45)" font-size="6.8" text-anchor="end" fill="#2a2a2a" stroke="#2a2a2a" stroke-width="0.12">L994F</text>
<line x1="433.90" y1="441.9" x2="433.90" y2="444.5" stroke="#222" stroke-width="0.9"/>
<text transform="translate(438.70,450.2) rotate(-45)" font-size="6.8" text-anchor="end" fill="#2a2a2a" stroke="#2a2a2a" stroke-width="0.12">S1041F</text>
<line x1="442.75" y1="441.9" x2="442.75" y2="444.5" stroke="#222" stroke-width="0.9"/>
<text transform="translate(447.55,450.2) rotate(-45)" font-size="6.8" text-anchor="end" fill="#2a2a2a" stroke="#2a2a2a" stroke-width="0.12">S984R</text>
<line x1="451.60" y1="441.9" x2="451.60" y2="444.5" stroke="#222" stroke-width="0.9"/>
<text transform="translate(456.40,450.2) rotate(-45)" font-size="6.8" text-anchor="end" fill="#2a2a2a" stroke="#2a2a2a" stroke-width="0.12">T1110M</text>
<line x1="460.45" y1="441.9" x2="460.45" y2="444.5" stroke="#222" stroke-width="0.9"/>
<text transform="translate(465.25,450.2) rotate(-45)" font-size="6.8" text-anchor="end" fill="#2a2a2a" stroke="#2a2a2a" stroke-width="0.12">R1086H</text>
<circle cx="44.9" cy="385.1" r="2.4" fill="#111"/>
<circle cx="53.7" cy="393.0" r="2.4" fill="#111"/>
<circle cx="62.6" cy="438.6" r="2.4" fill="#111"/>
<circle cx="71.4" cy="434.4" r="2.4" fill="#111"/>
<circle cx="89.20" cy="442.1" r="2.5" fill="#d0103a"/>
<circle cx="98.00" cy="442.1" r="2.5" fill="#d0103a"/>
<circle cx="106.60" cy="394.4" r="2.5" fill="#d0103a"/>
<circle cx="115.40" cy="392.2" r="2.5" fill="#d0103a"/>
<circle cx="133.20" cy="411.5" r="2.5" fill="#d0103a"/>
<circle cx="142.00" cy="401.8" r="2.5" fill="#d0103a"/>
<circle cx="150.80" cy="395.3" r="2.5" fill="#d0103a"/>
<circle cx="168.50" cy="437.8" r="2.5" fill="#d0103a"/>
<circle cx="177.50" cy="433.2" r="2.5" fill="#d0103a"/>
<circle cx="186.40" cy="431.5" r="2.5" fill="#d0103a"/>
<circle cx="195.20" cy="413.5" r="2.5" fill="#d0103a"/>
<circle cx="204.00" cy="408.0" r="2.5" fill="#d0103a"/>
<circle cx="212.80" cy="401.5" r="2.5" fill="#d0103a"/>
<circle cx="221.60" cy="401.1" r="2.5" fill="#d0103a"/>
<circle cx="239.30" cy="442.2" r="2.5" fill="#d0103a"/>
<circle cx="248.15" cy="442.2" r="2.5" fill="#d0103a"/>
<circle cx="257.00" cy="442.2" r="2.5" fill="#d0103a"/>
<circle cx="265.85" cy="440.8" r="2.5" fill="#d0103a"/>
<circle cx="274.70" cy="438.7" r="2.5" fill="#d0103a"/>
<circle cx="283.55" cy="438.0" r="2.5" fill="#d0103a"/>
<circle cx="292.40" cy="435.7" r="2.5" fill="#d0103a"/>
<circle cx="301.25" cy="435.7" r="2.5" fill="#d0103a"/>
<circle cx="310.10" cy="431.8" r="2.5" fill="#d0103a"/>
<circle cx="318.95" cy="423.9" r="2.5" fill="#d0103a"/>
<circle cx="327.80" cy="420.7" r="2.5" fill="#d0103a"/>
<circle cx="336.65" cy="418.8" r="2.5" fill="#d0103a"/>
<circle cx="345.50" cy="414.9" r="2.5" fill="#d0103a"/>
<circle cx="354.35" cy="414.9" r="2.5" fill="#d0103a"/>
<circle cx="363.20" cy="411.5" r="2.5" fill="#d0103a"/>
<circle cx="380.80" cy="442.2" r="2.5" fill="#d0103a"/>
<circle cx="389.65" cy="442.2" r="2.5" fill="#d0103a"/>
<circle cx="398.50" cy="442.2" r="2.5" fill="#d0103a"/>
<circle cx="407.35" cy="437.6" r="2.5" fill="#d0103a"/>
<circle cx="416.20" cy="420.8" r="2.5" fill="#d0103a"/>
<circle cx="425.05" cy="415.0" r="2.5" fill="#d0103a"/>
<circle cx="433.90" cy="410.8" r="2.5" fill="#d0103a"/>
<circle cx="442.75" cy="410.4" r="2.5" fill="#d0103a"/>
<circle cx="451.60" cy="406.5" r="2.5" fill="#d0103a"/>
<circle cx="460.45" cy="391.5" r="2.5" fill="#d0103a"/>
<text x="491.7" y="386.2" font-size="7.33" text-anchor="middle" fill="#3a3a3a" stroke="#3a3a3a" stroke-width="0.05" textLength="34.4" lengthAdjust="spacing">Preserved</text>
<text x="493.1" y="395.4" font-size="7.8" text-anchor="middle" fill="#3a3a3a" stroke="#3a3a3a" stroke-width="0.05" textLength="26.2" lengthAdjust="spacingAndGlyphs">(10.3%)</text>
<text x="491.7" y="409.7" font-size="7.33" text-anchor="middle" fill="#3a3a3a" stroke="#3a3a3a" stroke-width="0.05" textLength="44.1" lengthAdjust="spacing">Intermediate</text>
<text x="493.1" y="419.6" font-size="7.8" text-anchor="middle" fill="#3a3a3a" stroke="#3a3a3a" stroke-width="0.05" textLength="26.2" lengthAdjust="spacingAndGlyphs">(43.6%)</text>
<text x="491.6" y="433.5" font-size="7.8" text-anchor="middle" fill="#3a3a3a" stroke="#3a3a3a" stroke-width="0.05" textLength="23.2" lengthAdjust="spacingAndGlyphs">Severe</text>
<text x="493.1" y="442.2" font-size="7.8" text-anchor="middle" fill="#3a3a3a" stroke="#3a3a3a" stroke-width="0.05" textLength="26.2" lengthAdjust="spacingAndGlyphs">(46.2%)</text>
<rect x="0" y="0" width="520" height="1.3" fill="#000"/>
<rect x="0" y="0" width="1.3" height="469" fill="#000"/>
<rect x="518.7" y="0" width="1.3" height="469" fill="#000"/>
<rect x="0" y="467.4" width="520" height="1.6" fill="#000"/>
</svg>
</body></html>
